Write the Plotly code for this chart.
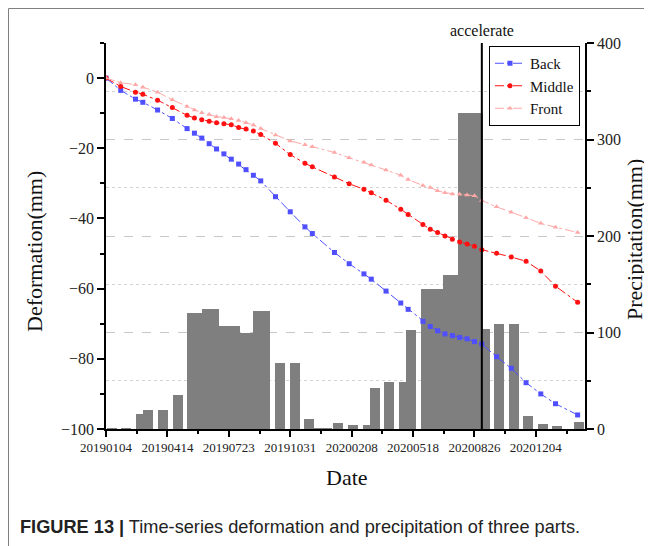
import plotly.graph_objects as go

# ---------------- data ----------------
dates = ["2019-01-04", "2019-01-28", "2019-02-21", "2019-03-05", "2019-03-29", "2019-04-22",
         "2019-05-16", "2019-05-28", "2019-06-09", "2019-06-21", "2019-07-03", "2019-07-15",
         "2019-07-27", "2019-08-08", "2019-08-20", "2019-09-01", "2019-09-13", "2019-10-07",
         "2019-10-31", "2019-11-24", "2019-12-06", "2020-01-11", "2020-02-04", "2020-02-28",
         "2020-03-11", "2020-04-04", "2020-04-28", "2020-05-10", "2020-06-03", "2020-06-15",
         "2020-06-27", "2020-07-09", "2020-07-21", "2020-08-02", "2020-08-14", "2020-08-26",
         "2020-09-07", "2020-10-01", "2020-10-25", "2020-11-18", "2020-12-12", "2021-01-05",
         "2021-02-10"]

back = [0, -3.5, -6.0, -6.9, -9.1, -11.5, -14.4, -15.7, -17.1, -18.7, -20.2, -21.6, -23.1,
        -24.5, -26.1, -27.7, -29.3, -33.8, -38.1, -42.4, -44.3, -49.7, -52.9, -55.8, -57.3,
        -60.7, -64.1, -65.9, -69.3, -70.8, -72.0, -72.9, -73.4, -73.9, -74.3, -75.1, -75.8,
        -79.4, -82.7, -86.8, -90.0, -92.8, -96.0]

middle = [0, -2.4, -4.0, -4.6, -6.3, -8.4, -10.6, -11.4, -11.9, -12.3, -12.7, -13.0, -13.3,
          -14.1, -14.5, -15.1, -16.1, -18.6, -21.8, -24.3, -25.3, -28.2, -30.1, -31.7, -32.7,
          -34.8, -37.4, -38.9, -41.7, -43.1, -44.0, -45.0, -45.9, -46.7, -47.3, -47.9, -48.9,
          -49.9, -51.0, -52.2, -55.0, -59.3, -63.9]

front = [0, -1.3, -1.9, -2.6, -4.0, -6.2, -8.1, -9.1, -9.9, -10.4, -11.0, -11.2, -11.6,
         -12.1, -12.7, -13.4, -14.4, -16.2, -17.9, -19.0, -19.6, -21.2, -22.7, -24.0, -24.8,
         -26.2, -27.7, -28.9, -30.6, -31.2, -32.1, -32.7, -33.0, -33.1, -33.3, -33.5, -34.9,
         -36.7, -38.2, -39.8, -41.4, -42.5, -44.0]

precip_dates = ["2019-01-13", "2019-02-06", "2019-03-02", "2019-03-13", "2019-04-07", "2019-05-01",
                "2019-05-24", "2019-06-05", "2019-06-17", "2019-06-29", "2019-07-13", "2019-07-23",
                "2019-08-02", "2019-08-17", "2019-08-26", "2019-09-08", "2019-09-20", "2019-10-14",
                "2019-11-07", "2019-12-01", "2019-12-13", "2019-12-30", "2020-01-17", "2020-02-10",
                "2020-03-05", "2020-03-17", "2020-04-09", "2020-05-03", "2020-05-15", "2020-06-08",
                "2020-06-20", "2020-07-02", "2020-07-14", "2020-07-26", "2020-08-07", "2020-08-19",
                "2020-08-31", "2020-09-12", "2020-10-05", "2020-10-29", "2020-11-21", "2020-12-15",
                "2021-01-08", "2021-02-12"]

precip = [1.0, 1.0, 16.0, 19.4, 19.4, 35.6, 120.0, 120.0, 124.7, 124.7, 106.7, 106.7, 106.7,
          99.5, 99.5, 122.7, 122.7, 68.8, 68.8, 10.8, 1.0, 1.0, 6.2, 4.5, 4.5, 42.9, 49.1, 49.1,
          102.3, 145.5, 145.5, 145.5, 159.5, 159.5, 327.0, 327.0, 327.0, 103.6, 108.5, 108.5,
          13.0, 4.9, 3.5, 6.8]

series_names = ["Back", "Middle", "Front"]
accelerate_date = "2020-09-07"
x_start, x_end = "2019-01-04", "2021-02-22"

DAY = 86400000

# ---------------- layout helpers (page pixel -> paper coords) ----------------
OFF = 8                      # page body margin
W, H = 652 - OFF, 546 - OFF
ML, MR, MT, MB = 106 - OFF, 67, 43 - OFF, 117
PW, PH = W - ML - MR, H - MT - MB


def px(x):
    return (x - OFF - ML) / PW


def py(y):
    return (H - MB - (y - OFF)) / PH


serif = "Liberation Serif, Times New Roman, serif"
sans = "Liberation Sans, Arial, sans-serif"

fig = go.Figure()

fig.add_trace(go.Bar(
    x=precip_dates, y=precip, width=16.3 * DAY,
    marker=dict(color="#7f7f7f", line=dict(width=0)),
    yaxis="y", showlegend=False, name="Precipitation"))

styles = [
    dict(color="#4f4fff", symbol="square"),
    dict(color="#ff1010", symbol="circle"),
    dict(color="#ffa8a8", symbol="triangle-up"),
]
for name, vals, st in zip(series_names, [back, middle, front], styles):
    fig.add_trace(go.Scatter(
        x=dates, y=vals, name=name, yaxis="y2", mode="lines+markers",
        line=dict(color=st["color"], width=1, dash="dashdot"),
        marker=dict(color=st["color"], symbol=st["symbol"], size=5)))

fig.update_layout(
    width=W, height=H,
    margin=dict(l=ML, r=MR, t=MT, b=MB, pad=0),
    paper_bgcolor="white", plot_bgcolor="white",
    bargap=0,
    font=dict(family=serif, color="#222222"),
    xaxis=dict(
        type="date", range=[x_start, x_end],
        tick0=x_start, dtick=100 * DAY, tickformat="%Y%m%d",
        ticks="outside", ticklen=6, tickwidth=1.5, tickcolor="black",
        minor=dict(dtick=50 * DAY, tick0=x_start, ticks="outside", ticklen=3,
                   tickwidth=1.5, tickcolor="black"),
        showline=True, linecolor="black", linewidth=1.5,
        showgrid=False, zeroline=False,
        tickfont=dict(family=serif, size=13, color="#222222"),
    ),
    yaxis=dict(
        side="right", range=[0, 400], dtick=100, tick0=0,
        ticks="outside", ticklen=7, tickwidth=1.5, tickcolor="black",
        showline=True, linecolor="black", linewidth=1.5,
        showgrid=True, gridcolor="#c8c8c8", gridwidth=1, griddash="dash",
        minor=dict(dtick=50, ticks="outside", ticklen=4, tickwidth=1.5, tickcolor="black",
                   showgrid=True, gridcolor="#d2d2d2", gridwidth=1, griddash="dot"),
        zeroline=False,
        tickfont=dict(family=serif, size=16, color="#222222"),
    ),
    yaxis2=dict(
        side="left", overlaying="y", range=[-100, 10], dtick=20, tick0=0,
        ticks="outside", ticklen=7, tickwidth=1.5, tickcolor="black",
        minor=dict(dtick=10, ticks="outside", ticklen=4, tickwidth=1.5, tickcolor="black"),
        showline=True, linecolor="black", linewidth=1.5,
        showgrid=False, zeroline=False,
        tickfont=dict(family=serif, size=16, color="#222222"),
    ),
    legend=dict(
        x=px(580), y=py(46), xanchor="right", yanchor="top",
        bgcolor="white", bordercolor="black", borderwidth=1,
        font=dict(family=serif, size=15, color="#111111"),
        itemwidth=30, tracegroupgap=0,
    ),
)

# accelerate line
fig.add_shape(type="line", xref="x", yref="paper", x0=accelerate_date, x1=accelerate_date,
              y0=0, y1=1, line=dict(color="black", width=2))

# figure border (top and left)
fig.add_shape(type="line", xref="paper", yref="paper", x0=px(8.5), x1=px(652), y0=py(8.5), y1=py(8.5),
              line=dict(color="#808080", width=1))
fig.add_shape(type="line", xref="paper", yref="paper", x0=px(8.5), x1=px(8.5), y0=py(8.5), y1=py(546),
              line=dict(color="#808080", width=1))

annotations = [
    dict(text="accelerate", x=accelerate_date, xref="x", y=py(30), yref="paper",
         showarrow=False, font=dict(family=serif, size=16, color="#111111"),
         xanchor="center", yanchor="middle"),
    dict(text="Date", x=px(347), y=py(477), xref="paper", yref="paper", showarrow=False,
         font=dict(family=serif, size=22, color="#111111"), xanchor="center", yanchor="middle"),
    dict(text="Deformation(mm)", x=px(35), y=py(252), xref="paper", yref="paper",
         showarrow=False, textangle=-90,
         font=dict(family=serif, size=22, color="#111111"), xanchor="center", yanchor="middle"),
    dict(text="Precipitation(mm)", x=px(634), y=py(240), xref="paper", yref="paper",
         showarrow=False, textangle=-90,
         font=dict(family=serif, size=22, color="#111111"), xanchor="center", yanchor="middle"),
    dict(text="<b>FIGURE 13 |</b> Time-series deformation and precipitation of three parts.",
         x=px(18), y=py(527), xref="paper", yref="paper", showarrow=False,
         font=dict(family=sans, size=18.2, color="#222222"), xanchor="left", yanchor="middle"),
]
fig.update_layout(annotations=annotations)

fig.write_html("out.html")
